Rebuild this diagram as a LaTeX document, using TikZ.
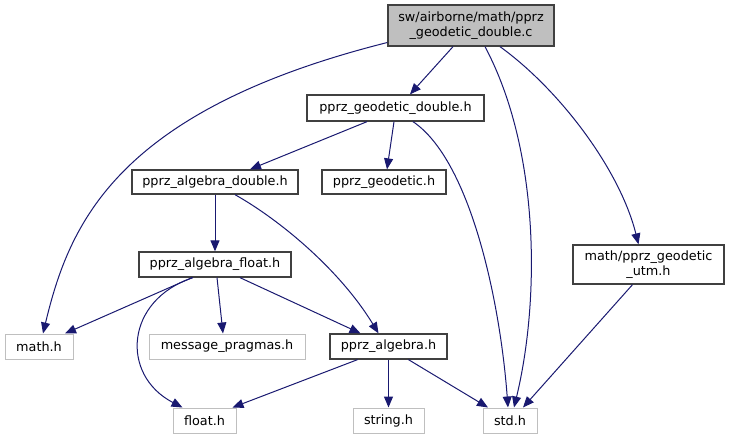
\documentclass[tikz,border=0pt]{standalone}
\usepackage{fontspec}
\setmainfont{DejaVu Sans}
\usepackage{tikz}
\usetikzlibrary{arrows.meta}
\definecolor{EdgeBlue}{HTML}{191970}
\definecolor{SysGray}{HTML}{BFBFBF}
\definecolor{RootFill}{HTML}{BFBFBF}
\definecolor{BoxLine}{HTML}{404040}

\tikzset{
  file/.style={draw=BoxLine, line width=1.3pt, fill=white, inner sep=0pt, align=center,
    font=\fontsize{12.8}{14.5}\selectfont},
  sysfile/.style={file, draw=SysGray, line width=1pt},
  rootfile/.style={file, fill=RootFill},
  dep/.style={EdgeBlue, line width=1pt, -{Triangle[length=11pt,width=9pt]}}
}

\begin{document}
\begin{tikzpicture}[x=1pt, y=-1pt]
  \useasboundingbox (0,0) rectangle (729,440);
  %% Files
  \node[rootfile, minimum width=166pt, minimum height=41pt] (root) at (471,25.5)
    {sw/airborne/math/pprz\\\_geodetic\_double.c};
  \node[file, minimum width=177pt, minimum height=26pt] (geodouble) at (395.5,108) {pprz\_geodetic\_double.h};
  \node[file, minimum width=166pt, minimum height=24pt] (algdouble) at (215,182) {pprz\_algebra\_double.h};
  \node[file, minimum width=124pt, minimum height=24pt] (geodetic) at (384,182) {pprz\_geodetic.h};
  \node[file, minimum width=152pt, minimum height=25pt] (algfloat) at (215,264.5) {pprz\_algebra\_float.h};
  \node[file, minimum width=151pt, minimum height=39pt] (utm) at (648.5,264.5) {math/pprz\_geodetic\\\_utm.h};
  \node[file, minimum width=117pt, minimum height=25pt] (algebra) at (388.5,346.5) {pprz\_algebra.h};
  %% System headers
  \node[sysfile, minimum width=68pt, minimum height=25pt] (mathh) at (39,346.5) {math.h};
  \node[sysfile, minimum width=156pt, minimum height=25pt] (pragmas) at (227,346.5) {message\_pragmas.h};
  \node[sysfile, minimum width=63pt, minimum height=25pt] (floath) at (204.5,420.5) {float.h};
  \node[sysfile, minimum width=71pt, minimum height=25pt] (stringh) at (388.5,420.5) {string.h};
  \node[sysfile, minimum width=54pt, minimum height=25pt] (stdh) at (510,420.5) {std.h};

  %% Includes of the root file
  \draw[dep] ([xshift=-18pt]root.south) -- ([xshift=14.5pt]geodouble.north);
  \draw[dep] ([yshift=-17pt]root.west) .. controls (115,111) and (69,225) .. ([xshift=4pt]mathh.north);
  \draw[dep] ([xshift=14pt]root.south) .. controls (540,150) and (540,300) .. ([xshift=4pt]stdh.north);
  \draw[dep] ([xshift=29pt]root.south) .. controls (560,90) and (620,170) .. ([xshift=-10pt]utm.north);
  %% pprz_geodetic_double.h
  \draw[dep] ([xshift=-28.5pt]geodouble.south) -- ([xshift=35pt]algdouble.north);
  \draw[dep] ([xshift=-1.5pt]geodouble.south) -- ([xshift=3pt]geodetic.north);
  \draw[dep] ([xshift=17.5pt]geodouble.south) .. controls (470,160) and (500,300) .. ([xshift=-2pt]stdh.north);
  %% pprz_algebra_double.h
  \draw[dep] (algdouble.south) -- (algfloat.north);
  \draw[dep] ([xshift=20pt]algdouble.south) .. controls (280,220) and (340,270) .. ([xshift=-10pt]algebra.north);
  %% pprz_algebra_float.h
  \draw[dep] ([xshift=-23pt]algfloat.south) -- ([xshift=26pt]mathh.north);
  \draw[dep] ([xshift=-22pt]algfloat.south) .. controls (125,300) and (120,375) .. ([xshift=-22pt]floath.north);
  \draw[dep] ([xshift=2pt]algfloat.south) -- ([xshift=-4pt]pragmas.north);
  \draw[dep] ([xshift=25pt]algfloat.south) -- ([xshift=-28pt]algebra.north);
  %% pprz_algebra.h
  \draw[dep] ([xshift=-31pt]algebra.south) -- ([xshift=28pt]floath.north);
  \draw[dep] (algebra.south) -- (stringh.north);
  \draw[dep] ([xshift=20pt]algebra.south) -- ([xshift=-22pt]stdh.north);
  %% utm
  \draw[dep] ([xshift=-16pt]utm.south) -- ([xshift=13pt]stdh.north);
\end{tikzpicture}
\end{document}
